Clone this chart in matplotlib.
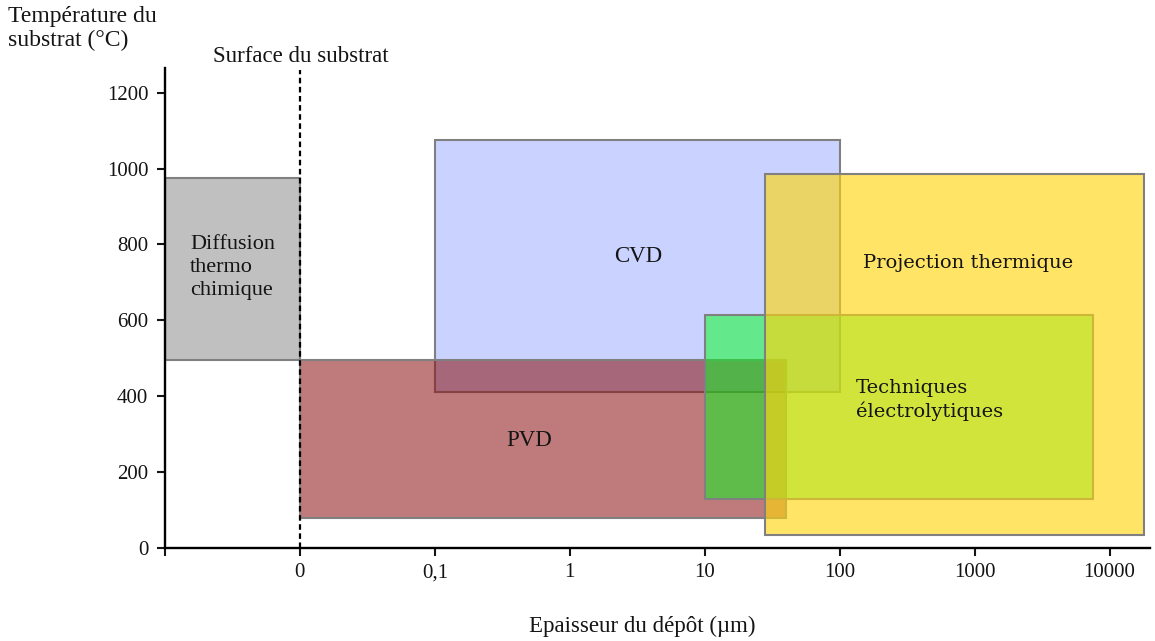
import numpy as np
import matplotlib
matplotlib.use("Agg")
import matplotlib.pyplot as plt
from matplotlib.patches import Rectangle

plt.rcParams['font.family'] = ['Liberation Serif', 'DejaVu Serif']

# x axis: one slot per decade, "0" is the substrate surface
tick_labels = ['', '0', '0,1', '1', '10', '100', '1000', '10000']
tick_pos = np.arange(-3, 5)
y_ticks = [0, 200, 400, 600, 800, 1000, 1200]

# boxes: thickness range (um, -1 = inside substrate, 0 = surface), temperature range (C)
names = ['Diffusion\nthermo\nchimique', 'CVD', 'PVD',
         'Techniques\nélectrolytiques', 'Projection thermique']
x_lo = [-1, 0.1, 0, 10, 28]
x_hi = [0, 100, 40, 7500, 18000]
t_lo = [495, 410, 80, 130, 35]
t_hi = [975, 1075, 495, 613, 985]

# where the labels sit (thickness, temperature)
label_x = [-1, 3.2, 0.5, 465, 890]
label_y = [740, 767, 283, 391, 751]

face = [(192/255, 192/255, 192/255, 1.0),
        (202/255, 210/255, 255/255, 1.0),
        (139/255, 15/255, 15/255, 0.55),
        (0/255, 254/255, 26/255, 0.5),
        (255/255, 214/255, 16/255, 0.64)]
label_font = ['Liberation Serif', 'Liberation Serif', 'Liberation Serif',
              'DejaVu Serif', 'DejaVu Serif']
label_size = [16, 16.5, 16.5, 14, 14]


def xpos(t):
    # surface is "0", the substrate side is one decade further left
    if t < 0:
        return -3
    if t == 0:
        return -2
    return np.log10(t)


fig = plt.figure(figsize=(11.55, 6.41), dpi=100)
ax = fig.add_axes([165/1155, 93/641, 985/1155, 480/641])

for i in range(len(names)):
    x0 = xpos(x_lo[i])
    x1 = xpos(x_hi[i])
    ax.add_patch(Rectangle((x0, t_lo[i]), x1 - x0, t_hi[i] - t_lo[i],
                           facecolor=face[i], edgecolor='#808080',
                           linewidth=1.5, zorder=2 + i))

for i in range(len(names)):
    lx = -2.5 if label_x[i] < 0 else np.log10(label_x[i])
    ax.text(lx, label_y[i], names[i], ha='center', va='center',
            multialignment='left', fontsize=label_size[i],
            family=label_font[i], color='#141414', zorder=10,
            linespacing=1.3)

# substrate surface
ax.plot([-2, -2], [0, 1260], color='black', linestyle=(0, (2.5, 1.6)),
        linewidth=1.6, zorder=9)

ax.set_xlim(-3, 4.3)
ax.set_ylim(0, 1265)
ax.set_xticks(tick_pos)
ax.set_xticklabels(tick_labels)
ax.set_yticks(y_ticks)

for s in ['top', 'right']:
    ax.spines[s].set_visible(False)
for s in ['left', 'bottom']:
    ax.spines[s].set_linewidth(1.7)
ax.tick_params(axis='both', direction='out', length=6, width=1.5,
               labelsize=15, colors='#141414')
ax.tick_params(axis='x', pad=5)
ax.tick_params(axis='y', pad=6)

fig.text(8/1155, 1 - 6/641, 'Température du\nsubstrat (°C)', ha='left', va='top',
         fontsize=17, color='#141414', linespacing=1.2)
fig.text(301/1155, 1 - 57/641, 'Surface du substrat', ha='center', va='center',
         fontsize=16.5, color='#141414')
fig.text(642/1155, 1 - 626/641, 'Epaisseur du dépôt (µm)', ha='center', va='center',
         fontsize=16.5, color='#141414')

plt.savefig('out.png', dpi=100)
plt.close()
